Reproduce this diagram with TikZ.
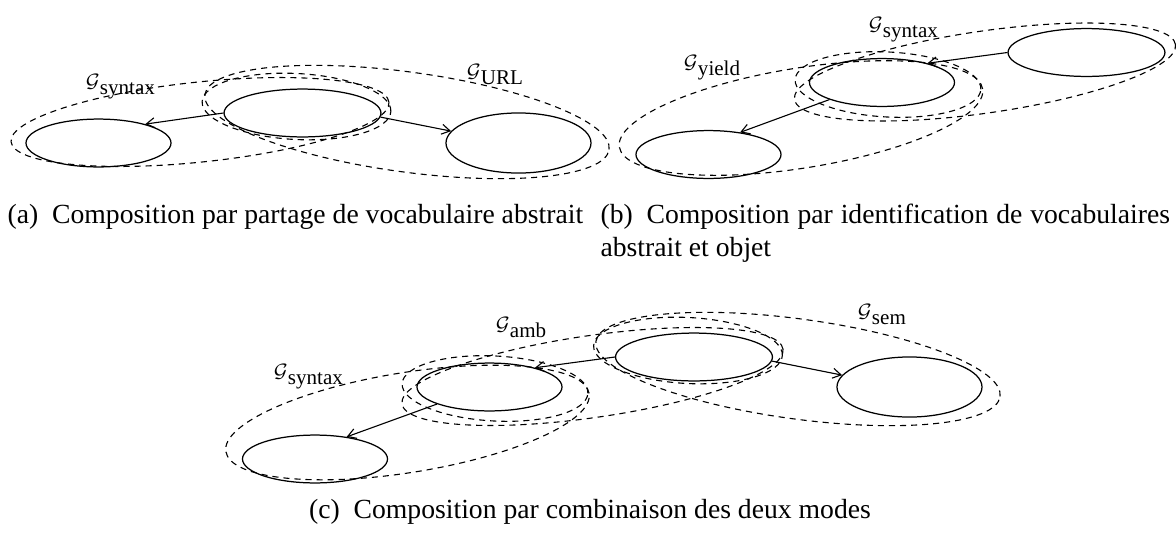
\documentclass[tikz,border=0pt]{standalone}
\usepackage{fontspec}
\setmainfont{Liberation Serif}
\usetikzlibrary{shapes.geometric,arrows.meta}
\newcommand{\gname}[1]{{\fontsize{6.8}{7}\selectfont$\mathcal{G}$}\raisebox{-2.6pt}{\fontsize{7.6}{8}\selectfont #1}}
\begin{document}
\begin{tikzpicture}[scale=0.127,
  every node/.style={inner sep=0pt},
  state/.style={ellipse,draw,line width=0.45pt,minimum width=52.4pt,minimum height=17.3pt},
  wide/.style={state,minimum width=56.7pt},
  tall/.style={state,minimum height=21.7pt},
  link/.style={-{Straight Barb[length=3pt,width=3.6pt]},line width=0.4pt},
  enclosure/.style={line width=0.4pt,dash pattern=on 2.2pt off 1.8pt}]
  \useasboundingbox (0,0) rectangle (117.6,-53.3);
  % (a)
  \node [state] (a1) at (9.85,-14.3) {};
  \node [wide] (a2) at (30.25,-11.3) {};
  \node [tall] (a3) at (51.85,-14.3) {};
  \draw [link] (a2.west) -- (a1.22);
  \draw [link] (a2.-3) -- (a3.170);
  \draw [enclosure, rotate around={-3:(29.65,-10.65)}] (29.65,-10.65) ellipse [x radius=9.45, y radius=3.3];
  \draw [enclosure, rotate around={6:(20,-12.2)}] (20,-12.2) ellipse [x radius=19, y radius=4];
  \draw [enclosure, rotate around={-7.75:(40.7,-12.2)}] (40.7,-12.2) ellipse [x radius=20.4, y radius=5];
  \node [anchor=base west] (ga1) at (8.5,-8.7) {\gname{syntax}};
  \node [anchor=base west] (ga2) at (46.6,-7.7) {\gname{URL}};
  \node [anchor=base west] (capa) at (0.7,-22.3) {(a)\enspace Composition par partage de vocabulaire abstrait};
  % (b)
  \node [state] (b1) at (70.85,-15.45) {};
  \node [state] (b2) at (88.2,-8.25) {};
  \node [wide] (b3) at (108.65,-5.25) {};
  \draw [link] (b3.west) -- (b2.23);
  \draw [link] (b2.198) -- (b1.35);
  \draw [enclosure, rotate around={-3:(88.8,-8.45)}] (88.8,-8.45) ellipse [x radius=9.3, y radius=3.25];
  \draw [enclosure, rotate around={8.2:(98.5,-7.2)}] (98.5,-7.2) ellipse [x radius=19.25, y radius=4.1];
  \draw [enclosure, rotate around={9.1:(80.1,-11.8)}] (80.1,-11.8) ellipse [x radius=18.4, y radius=5];
  \node [anchor=base west] (gb1) at (68.3,-6.8) {\gname{yield}};
  \node [anchor=base west] (gb2) at (86.8,-3) {\gname{syntax}};
  \node [anchor=base west] (capb) at (60,-22.3) {\parbox[t]{205.8pt}{\baselineskip=12pt (b)\enspace Composition par identification de vocabulaires abstrait et objet}};
  % (c)
  \node [state] (c1) at (31.5,-45.9) {};
  \node [state] (c2) at (48.95,-38.7) {};
  \node [wide] (c3) at (69.4,-35.7) {};
  \node [tall] (c4) at (90.95,-38.7) {};
  \draw [link] (c3.west) -- (c2.23);
  \draw [link] (c2.198) -- (c1.35);
  \draw [link] (c3.-3) -- (c4.170);
  \draw [enclosure, rotate around={-3:(49.5,-38.85)}] (49.5,-38.85) ellipse [x radius=9.3, y radius=3.25];
  \draw [enclosure, rotate around={-3:(68.8,-35.05)}] (68.8,-35.05) ellipse [x radius=9.45, y radius=3.3];
  \draw [enclosure, rotate around={9.1:(40.75,-42.25)}] (40.75,-42.25) ellipse [x radius=18.4, y radius=5];
  \draw [enclosure, rotate around={8.2:(59.25,-37.65)}] (59.25,-37.65) ellipse [x radius=19.25, y radius=4.1];
  \draw [enclosure, rotate around={-7.75:(79.8,-36.9)}] (79.8,-36.9) ellipse [x radius=20.4, y radius=5];
  \node [anchor=base west] (gc1) at (27.3,-37.7) {\gname{syntax}};
  \node [anchor=base west] (gc2) at (49.5,-33) {\gname{amb}};
  \node [anchor=base west] (gc3) at (85.7,-31.7) {\gname{sem}};
  \node [anchor=base] (capc) at (59,-51.8) {(c)\enspace Composition par combinaison des deux modes};
\end{tikzpicture}
\end{document}
